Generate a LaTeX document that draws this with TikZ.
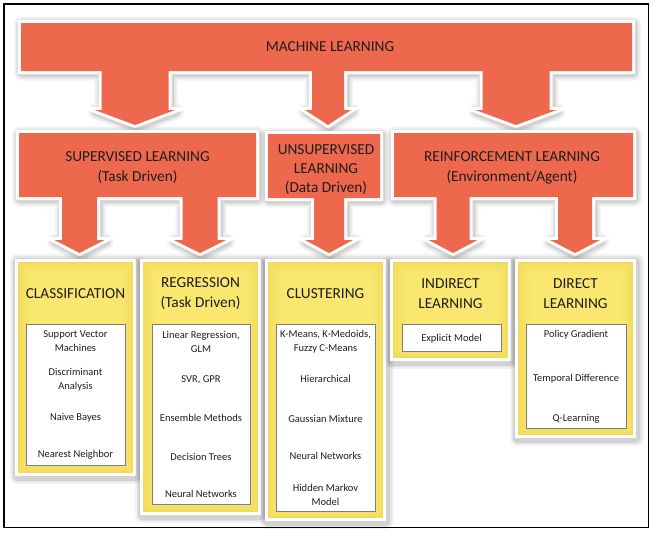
\documentclass[tikz,border=0pt]{standalone}
\usepackage{fontspec}
\setmainfont{Carlito}
\usetikzlibrary{calc}

\definecolor{mlorange}{RGB}{238,104,77}
\definecolor{boxyellow}{RGB}{249,231,112}
\definecolor{glowyellow}{RGB}{232,200,52}
\definecolor{inkgray}{RGB}{30,30,30}
\definecolor{rulegray}{RGB}{125,125,125}

\tikzset{
  % soft grey halo, built from a few translucent strokes
  halo/.style={
    preaction={draw=black, draw opacity=0.05, line width=16pt, line join=round,
      transform canvas={shift={(1pt,-1.5pt)}}},
    preaction={draw=black, draw opacity=0.06, line width=12pt, line join=round,
      transform canvas={shift={(1pt,-1.5pt)}}},
    preaction={draw=black, draw opacity=0.08, line width=9pt, line join=round,
      transform canvas={shift={(1pt,-1.5pt)}}}},
  orangeblock/.style={halo,
      preaction={draw=white, line width=6pt, line join=miter}, fill=mlorange},
  area/.style={inner sep=0pt, outer sep=0pt, text=inkgray, align=center},
  headtext/.style={area, font=\fontsize{15.3}{20}\selectfont},
  ybox/.style={area, halo, fill=boxyellow,
      path picture={
        \foreach \w/\o in {28/0.06, 20/0.07, 13/0.08, 7/0.09}
          \draw[glowyellow, draw opacity=\o, line width=\w pt]
            (path picture bounding box.south west) rectangle (path picture bounding box.north east);},
      postaction={draw=white, line width=3pt}},
  inbox/.style={area, fill=white, draw=rulegray, line width=0.6pt},
  titletext/.style={area, font=\fontsize{15.3}{20}\selectfont},
  itemtext/.style={area, font=\fontsize{10.5}{14}\selectfont},
  % block arrow leaving the lower edge of node #1 and ending at tip #2;
  % #3 half stem width, #4 half head width, #5 head height
  blockstem/.style n args={5}{insert path={
      -- ($(#2 |- #1.south)+(#3,0)$) -- ($(#2)+(#3,-#5)$) -- ($(#2)+(#4,-#5)$)
      -- (#2) -- ($(#2)+(-#4,-#5)$) -- ($(#2)+(-#3,-#5)$)
      -- ($(#2 |- #1.south)+(-#3,0)$)}}
}

\begin{document}
\begin{tikzpicture}[x=1pt, y=-1pt]
\useasboundingbox (0,0) rectangle (653,533);

% outer frame
\draw[line width=1.2pt, black] (4,4) rectangle (648.5,527.5);

% category areas (outline only, filled below)
\path node[area, minimum width=611pt, minimum height=48pt] (ml) at (326.5,47) {}
      node[area, minimum width=237pt, minimum height=64pt] (sup) at (137.5,165) {}
      node[area, minimum width=112pt, minimum height=64pt] (unsup) at (324,166) {}
      node[area, minimum width=239pt, minimum height=64pt] (reinf) at (513.5,165) {};

% arrow tips
\coordinate (t1) at (135,125);
\coordinate (t2) at (328,125);
\coordinate (t3) at (516,125);
\coordinate (s1) at (79.5,253);
\coordinate (s2) at (200,253);
\coordinate (u1) at (329,253);
\coordinate (r1) at (453,253);
\coordinate (r2) at (575,253);

\path[orangeblock] (ml.north west) -- (ml.north east) -- (ml.south east)
  [blockstem={ml}{t3}{33.5}{40.5}{15}]
  [blockstem={ml}{t2}{16}{23}{15}]
  [blockstem={ml}{t1}{33.5}{40}{15}]
  -- (ml.south west) -- cycle;
\path[orangeblock] (sup.north west) -- (sup.north east) -- (sup.south east)
  [blockstem={sup}{s2}{17.5}{26}{13}]
  [blockstem={sup}{s1}{17.5}{25}{13}]
  -- (sup.south west) -- cycle;
\path[orangeblock] (unsup.north west) -- (unsup.north east) -- (unsup.south east)
  [blockstem={unsup}{u1}{15}{24}{13}]
  -- (unsup.south west) -- cycle;
\path[orangeblock] (reinf.north west) -- (reinf.north east) -- (reinf.south east)
  [blockstem={reinf}{r2}{17}{25}{13}]
  [blockstem={reinf}{r1}{16.5}{24.5}{13}]
  -- (reinf.south west) -- cycle;

\node[headtext] (mlT) at (330,47) {MACHINE LEARNING};
\node[headtext] (supL) at (137.5,168) {SUPERVISED LEARNING\\(Task Driven)};
\node[headtext, font=\fontsize{15.3}{18.7}\selectfont] (unsupL) at (326,169.5) {UNSUPERVISED\\LEARNING\\(Data Driven)};
\node[headtext] (reinfL) at (512,168) {REINFORCEMENT LEARNING\\(Environment/Agent)};

% method boxes (sizes include the white rim)
\node[ybox, minimum width=118pt, minimum height=214pt] (cls) at (75.5,367.5) {};
\node[ybox, minimum width=118pt, minimum height=253pt] (reg) at (200.5,387) {};
\node[ybox, minimum width=118pt, minimum height=259pt] (clu) at (325.5,390) {};
\node[ybox, minimum width=118pt, minimum height=99pt] (ind) at (450.5,310) {};
\node[ybox, minimum width=118pt, minimum height=176pt] (dir) at (575.5,348.5) {};

\node[titletext] (clsT) at (75.5,293.5) {CLASSIFICATION};
\node[titletext] (regT) at (200.5,293.5) {REGRESSION\\(Task Driven)};
\node[titletext] (cluT) at (325.5,293.5) {CLUSTERING};
\node[titletext] (indT) at (450.5,294) {INDIRECT\\LEARNING};
\node[titletext] (dirT) at (575.5,294) {DIRECT\\LEARNING};

\node[inbox, minimum width=99pt, minimum height=141pt] (clsI) at (75.5,394.5) {};
\node[inbox, minimum width=98pt, minimum height=180pt] (regI) at (201,414) {};
\node[inbox, minimum width=99pt, minimum height=187pt] (cluI) at (325.5,417.5) {};
\node[inbox, minimum width=99pt, minimum height=27pt] (indI) at (451.5,337.5) {};
\node[inbox, minimum width=100pt, minimum height=104pt] (dirI) at (576,376) {};

% classification
\node[itemtext] (c1) at (75.5,341.5) {Support Vector\\Machines};
\node[itemtext] (c2) at (75.5,379.5) {Discriminant\\Analysis};
\node[itemtext] (c3) at (75.5,417.5) {Naive Bayes};
\node[itemtext] (c4) at (75.5,454.5) {Nearest Neighbor};
% regression
\node[itemtext] (g1) at (201,341.5) {Linear Regression,\\GLM};
\node[itemtext] (g2) at (201,379.5) {SVR, GPR};
\node[itemtext] (g3) at (201,417.5) {Ensemble Methods};
\node[itemtext] (g4) at (201,456.5) {Decision Trees};
\node[itemtext] (g5) at (201,493.5) {Neural Networks};
% clustering
\node[itemtext] (k1) at (325.5,342) {K-Means, K-Medoids,\\Fuzzy C-Means};
\node[itemtext] (k2) at (325.5,378.5) {Hierarchical};
\node[itemtext] (k3) at (325.5,418.5) {Gaussian Mixture};
\node[itemtext] (k4) at (325.5,455.5) {Neural Networks};
\node[itemtext] (k5) at (325.5,495) {Hidden Markov\\Model};
% indirect
\node[itemtext] (i1) at (451.5,338.5) {Explicit Model};
% direct
\node[itemtext] (d1) at (576,334.5) {Policy Gradient};
\node[itemtext] (d2) at (576,378.5) {Temporal Difference};
\node[itemtext] (d3) at (576,418.5) {Q-Learning};
\end{tikzpicture}
\end{document}
